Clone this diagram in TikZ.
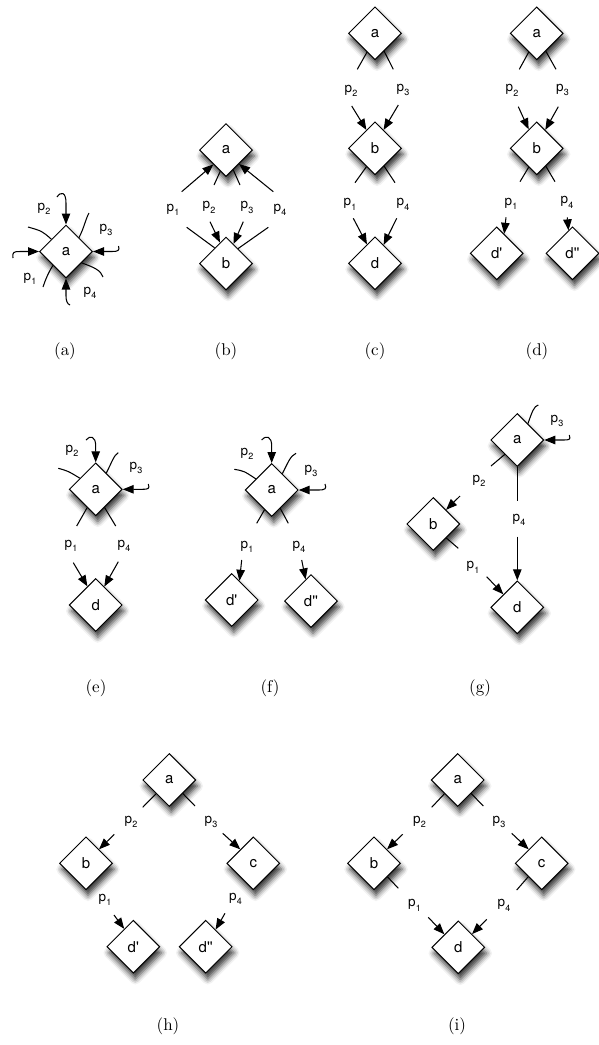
\documentclass[tikz,border=0pt]{standalone}
\usepackage{fontspec}
\setsansfont{TeX Gyre Heros}
\newfontfamily\capfont{lmroman10-regular.otf}
\usetikzlibrary{shapes.geometric,shadows.blur,arrows.meta}
\newcommand\plab[1]{p\kern0.2pt\raisebox{-0.32em}{\fontsize{9}{9}\selectfont #1}}
\newcommand\dq{d\textquotesingle}
\newcommand\dqq{d\textquotesingle\textquotesingle}
\tikzset{
 dia/.style={diamond, draw=black, fill=white, line width=1pt, minimum width=53pt, minimum height=53pt, inner sep=0pt,
   font=\sffamily\fontsize{15}{15}\selectfont,
   blur shadow={shadow xshift=2pt, shadow yshift=-6pt, shadow blur radius=5.5pt, shadow opacity=80}},
 ln/.style={line width=1.05pt},
 arr/.style={line width=1.05pt, -{Triangle[length=11pt,width=8.5pt]}},
 lab/.style={font=\sffamily\fontsize{13.5}{13.5}\selectfont, inner sep=0pt},
 captxt/.style={font=\capfont\fontsize{17}{17}\selectfont, inner sep=0pt}
}
\begin{document}
\begin{tikzpicture}[x=1pt,y=-1pt]
\useasboundingbox (0,0) rectangle (599,1045);
% ---------------- (a)
\node[dia] (A-a) at (66,251.5) {a};
\coordinate (A-s2) at (57,197);
\coordinate (A-s1) at (13,258);
\coordinate (A-s3) at (118.5,246);
\coordinate (A-s4) at (70,305);
\coordinate (A-e1) at (28,227);
\coordinate (A-e2) at (89,213);
\coordinate (A-e3) at (43,287);
\coordinate (A-e4) at (103,277);
\draw[arr] (A-s2) .. controls (61,191) and (66,192) .. (66,203) -- (A-a.north);
\draw[arr] (A-s1) .. controls (12,252) and (14,251.5) .. (20,251.5) -- (A-a.west);
\draw[arr] (A-s3) .. controls (120,250.5) and (118,251.5) .. (112,251.5) -- (A-a.east);
\draw[arr] (A-s4) .. controls (67,304) and (66,300) .. (66,296) -- (A-a.south);
\draw[ln] (A-a.140) .. controls (42,231) .. (A-e1);
\draw[ln] (A-a.47) .. controls (84,228) and (86,218) .. (A-e2);
\draw[ln] (A-a.227) .. controls (48,273) and (45,281) .. (A-e3);
\draw[ln] (A-a.-36) .. controls (93,267) and (101,270) .. (A-e4);
\node[lab] (A-p2) at (44,209) {\plab{2}};
\node[lab] (A-p3) at (106,230) {\plab{3}};
\node[lab] (A-p1) at (30,279) {\plab{1}};
\node[lab] (A-p4) at (90,293) {\plab{4}};
\node[captxt] (A-cap) at (65,351) {(a)};
% ---------------- (b)
\node[dia] (B-a) at (226,150) {a};
\node[dia] (B-b) at (226,263.5) {b};
\coordinate (B-s1) at (181.7,191.7);
\coordinate (B-s4) at (273.3,191.7);
\coordinate (B-e2) at (214,185);
\coordinate (B-e3) at (240,185);
\coordinate (B-s2) at (210,221.7);
\coordinate (B-s3) at (243.3,221.7);
\coordinate (B-e1) at (186.7,227.3);
\coordinate (B-e4) at (268.3,227.3);
\draw[arr] (B-s1) -- (B-a.229);
\draw[arr] (B-s4) -- (B-a.-47);
\draw[ln] (B-a.255) -- (B-e2);
\draw[ln] (B-a.290) -- (B-e3);
\draw[arr] (B-s2) -- (B-b.106);
\draw[arr] (B-s3) -- (B-b.69);
\draw[ln] (B-b.126) -- (B-e1);
\draw[ln] (B-b.51) -- (B-e4);
\node[lab] (B-p1) at (173,210) {\plab{1}};
\node[lab] (B-p2) at (209,207.5) {\plab{2}};
\node[lab] (B-p3) at (247,207.5) {\plab{3}};
\node[lab] (B-p4) at (280,210) {\plab{4}};
\node[captxt] (B-cap) at (226,351) {(b)};
% ---------------- (c)
\node[dia] (C-a) at (375,33.3) {a};
\node[dia] (C-b) at (375,148.3) {b};
\node[dia] (C-d) at (375,263.3) {d};
\coordinate (C-e2) at (357.3,69.3);
\coordinate (C-e3) at (393.3,69.3);
\coordinate (C-s2) at (351.7,106);
\coordinate (C-s3) at (398.3,105);
\coordinate (C-e1) at (355,182.7);
\coordinate (C-e4) at (395,182.7);
\coordinate (C-s1) at (353.3,218.3);
\coordinate (C-s4) at (396.7,218.3);
\draw[ln] (C-a.247) -- (C-e2);
\draw[ln] (C-a.297) -- (C-e3);
\draw[arr] (C-s2) -- (C-b.115);
\draw[arr] (C-s3) -- (C-b.65);
\draw[ln] (C-b.245) -- (C-e1);
\draw[ln] (C-b.297) -- (C-e4);
\draw[arr] (C-s1) -- (C-d.113);
\draw[arr] (C-s4) -- (C-d.65);
\node[lab] (C-p2) at (351,91) {\plab{2}};
\node[lab] (C-p3) at (403,90) {\plab{3}};
\node[lab] (C-p1) at (350,204.5) {\plab{1}};
\node[lab] (C-p4) at (403,204.5) {\plab{4}};
\node[captxt] (C-cap) at (375,351) {(c)};
% ---------------- (d)
\node[dia] (D-a) at (536.7,33.3) {a};
\node[dia] (D-b) at (536.7,148.3) {b};
\node[dia] (D-d1) at (496.7,253.3) {\dq};
\node[dia] (D-d2) at (572.5,253.3) {\dqq};
\coordinate (D-e2) at (519.3,69.3);
\coordinate (D-e3) at (556,69.3);
\coordinate (D-s2) at (518.3,106.7);
\coordinate (D-s3) at (558.3,106.7);
\coordinate (D-e1) at (520,181.7);
\coordinate (D-e4) at (555,181.7);
\coordinate (D-s1) at (506,217.3);
\coordinate (D-s4) at (567.3,217.3);
\draw[ln] (D-a.247) -- (D-e2);
\draw[ln] (D-a.297) -- (D-e3);
\draw[arr] (D-s2) -- (D-b.113);
\draw[arr] (D-s3) -- (D-b.65);
\draw[ln] (D-b.247) -- (D-e1);
\draw[ln] (D-b.297) -- (D-e4);
\draw[arr] (D-s1) -- (D-d1.69);
\draw[arr] (D-s4) -- (D-d2.100);
\node[lab] (D-p2) at (512,90.5) {\plab{2}};
\node[lab] (D-p3) at (562.5,90) {\plab{3}};
\node[lab] (D-p1) at (511,204) {\plab{1}};
\node[lab] (D-p4) at (567,202.5) {\plab{4}};
\node[captxt] (D-cap) at (537,351) {(d)};
% ---------------- (e)
\node[dia] (E-a) at (95.7,489.3) {a};
\node[dia] (E-d) at (95.7,605) {d};
\coordinate (E-s2) at (86,440);
\coordinate (E-e1) at (58.3,468.3);
\coordinate (E-e3) at (118.3,452.7);
\coordinate (E-s3) at (148.3,484);
\coordinate (E-e2) at (76.7,526);
\coordinate (E-e4) at (115.7,526);
\coordinate (E-s1) at (73.3,562.7);
\coordinate (E-s4) at (118.3,561.7);
\draw[arr] (E-s2) .. controls (90,435) and (95.7,436) .. (95.7,446) -- (E-a.north);
\draw[ln] (E-a.145) .. controls (68,471) .. (E-e1);
\draw[ln] (E-a.57) .. controls (112,462) and (114,455) .. (E-e3);
\draw[arr] (E-s3) .. controls (150,489) and (148,489.3) .. (142,489.3) -- (E-a.east);
\draw[ln] (E-a.245) -- (E-e2);
\draw[ln] (E-a.296) -- (E-e4);
\draw[arr] (E-s1) -- (E-d.114);
\draw[arr] (E-s4) -- (E-d.65);
\node[lab] (E-p2) at (72,451) {\plab{2}};
\node[lab] (E-p3) at (136,468) {\plab{3}};
\node[lab] (E-p1) at (71,546) {\plab{1}};
\node[lab] (E-p4) at (124,546) {\plab{4}};
\node[captxt] (E-cap) at (96,688) {(e)};
% ---------------- (f)
\node[dia] (F-a) at (271.7,490) {a};
\node[dia] (F-d1) at (231.7,600) {\dq};
\node[dia] (F-d2) at (311,601) {\dqq};
\coordinate (F-s2) at (261.7,440);
\coordinate (F-e1) at (234.3,469.3);
\coordinate (F-e3) at (296,453.3);
\coordinate (F-s3) at (325,484);
\coordinate (F-e2) at (256.7,523.3);
\coordinate (F-e4) at (288.3,523.3);
\coordinate (F-s1) at (241.7,560);
\coordinate (F-s4) at (301.7,560);
\draw[arr] (F-s2) .. controls (266,435) and (271.7,436) .. (271.7,446) -- (F-a.north);
\draw[ln] (F-a.145) .. controls (244,471) .. (F-e1);
\draw[ln] (F-a.57) .. controls (288,463) and (290,456) .. (F-e3);
\draw[arr] (F-s3) .. controls (327,489) and (325,490) .. (318,490) -- (F-a.east);
\draw[ln] (F-a.250) -- (F-e2);
\draw[ln] (F-a.295) -- (F-e4);
\draw[arr] (F-s1) -- (F-d1.68);
\draw[arr] (F-s4) -- (F-d2.104);
\node[lab] (F-p2) at (247,454) {\plab{2}};
\node[lab] (F-p3) at (311,471) {\plab{3}};
\node[lab] (F-p1) at (247,547) {\plab{1}};
\node[lab] (F-p4) at (299,547) {\plab{4}};
\node[captxt] (F-cap) at (270,688) {(f)};
% ---------------- (g)
\node[dia] (G-a) at (517.3,440) {a};
\node[dia] (G-b) at (433.3,524) {b};
\node[dia] (G-d) at (517.3,607.3) {d};
\coordinate (G-e3) at (538.3,405);
\coordinate (G-s3) at (569.3,435);
\coordinate (G-e2) at (491,466);
\coordinate (G-s2) at (460,496);
\coordinate (G-e4) at (517.3,500.7);
\coordinate (G-s4) at (517.3,536.7);
\coordinate (G-e1) at (458.3,548.3);
\coordinate (G-s1) at (486.7,576.7);
\draw[ln] (G-a.57) .. controls (532,412) and (534,406) .. (G-e3);
\draw[arr] (G-s3) .. controls (571,440) and (569,440) .. (563,440) -- (G-a.east);
\draw[ln] (G-a.229) -- (G-e2);
\draw[arr] (G-s2) -- (G-b.48);
\draw[ln] (G-a.south) -- (G-e4);
\draw[arr] (G-s4) -- (G-d.north);
\draw[ln] (G-b.313) -- (G-e1);
\draw[arr] (G-s1) -- (G-d.137);
\node[lab] (G-p3) at (557,421) {\plab{3}};
\node[lab] (G-p2) at (479,481) {\plab{2}};
\node[lab] (G-p4) at (519,520) {\plab{4}};
\node[lab] (G-p1) at (473,567.5) {\plab{1}};
\node[captxt] (G-cap) at (480,688) {(g)};
% ---------------- (h)
\node[dia] (H-a) at (169.3,780) {a};
\node[dia] (H-b) at (86,863.3) {b};
\node[dia] (H-c) at (253.3,863.3) {c};
\node[dia] (H-d1) at (133.3,946.7) {\dq};
\node[dia] (H-d2) at (205.7,946.7) {\dqq};
\coordinate (H-e2) at (142.7,807.3);
\coordinate (H-e3) at (195,806);
\coordinate (H-s2) at (114.3,834.3);
\coordinate (H-s3) at (222.7,833.3);
\coordinate (H-s1) at (114,915);
\coordinate (H-s4) at (225,913.3);
\draw[ln] (H-a.226) -- (H-e2);
\draw[ln] (H-a.315) -- (H-e3);
\draw[arr] (H-s2) -- (H-b.47);
\draw[arr] (H-s3) -- (H-c.133);
\draw[arr] (H-s1) -- (H-d1.117);
\draw[arr] (H-s4) -- (H-d2.60);
\node[lab] (H-p2) at (131,822) {\plab{2}};
\node[lab] (H-p3) at (211,822) {\plab{3}};
\node[lab] (H-p1) at (105,900) {\plab{1}};
\node[lab] (H-p4) at (235.5,899) {\plab{4}};
\node[captxt] (H-cap) at (168,1026) {(h)};
% ---------------- (i)
\node[dia] (I-a) at (457.7,780) {a};
\node[dia] (I-b) at (374,863.3) {b};
\node[dia] (I-c) at (541.7,863.3) {c};
\node[dia] (I-d) at (458.3,947.3) {d};
\coordinate (I-e2) at (431.7,807.3);
\coordinate (I-e3) at (483.3,806);
\coordinate (I-s2) at (402.7,834.3);
\coordinate (I-s3) at (511.7,833.3);
\coordinate (I-e1) at (398.3,888.3);
\coordinate (I-e4) at (516.7,890);
\coordinate (I-s1) at (428.3,917.3);
\coordinate (I-s4) at (486.7,919.3);
\draw[ln] (I-a.226) -- (I-e2);
\draw[ln] (I-a.315) -- (I-e3);
\draw[arr] (I-s2) -- (I-b.47);
\draw[arr] (I-s3) -- (I-c.133);
\draw[ln] (I-b.315) -- (I-e1);
\draw[ln] (I-c.225) -- (I-e4);
\draw[arr] (I-s1) -- (I-d.137);
\draw[arr] (I-s4) -- (I-d.44);
\node[lab] (I-p2) at (419.5,822) {\plab{2}};
\node[lab] (I-p3) at (499,822) {\plab{3}};
\node[lab] (I-p1) at (414.5,905.5) {\plab{1}};
\node[lab] (I-p4) at (504,905.5) {\plab{4}};
\node[captxt] (I-cap) at (457,1026) {(i)};
\end{tikzpicture}
\end{document}
